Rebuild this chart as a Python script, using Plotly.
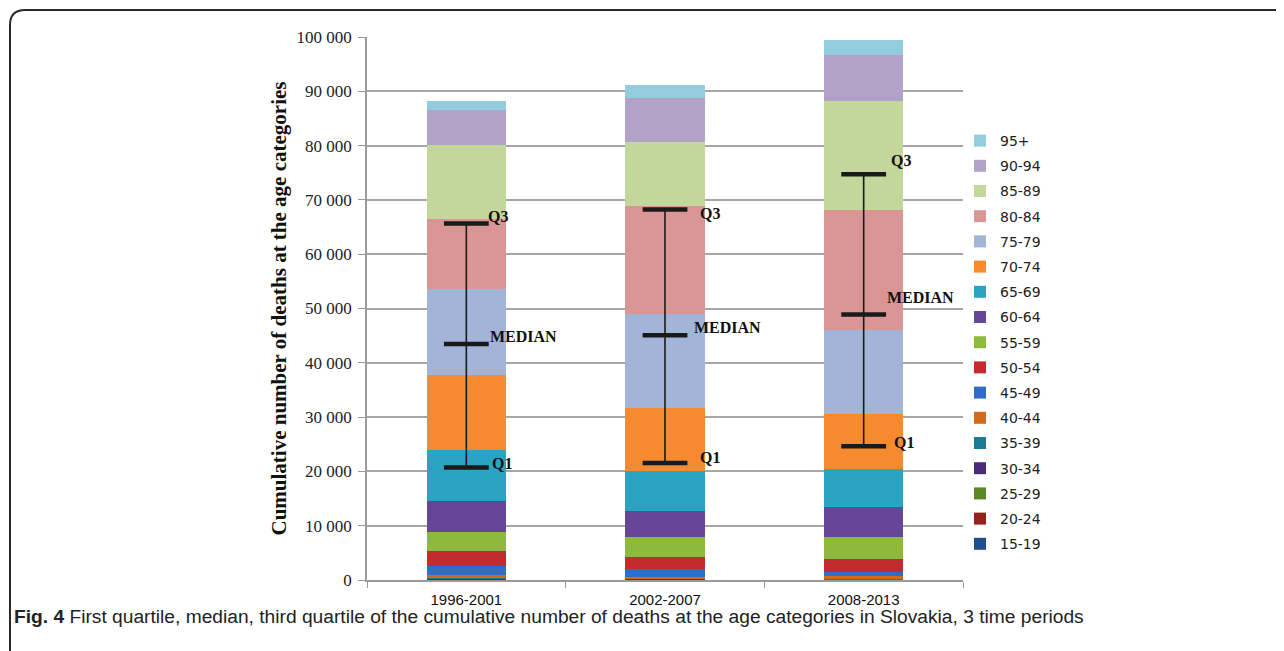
import plotly.graph_objects as go

periods = ["1996-2001", "2002-2007", "2008-2013"]
age_groups = ["15-19", "20-24", "25-29", "30-34", "35-39", "40-44", "45-49", "50-54",
              "55-59", "60-64", "65-69", "70-74", "75-79", "80-84", "85-89", "90-94", "95+"]

# deaths per age group (15-19 ... 95+) in each period
deaths_1996_2001 = [40, 50, 50, 60, 90, 700, 1590, 2710, 3550, 5710, 9340, 13810, 15960, 12890, 13630, 6450, 1570]
deaths_2002_2007 = [40, 40, 50, 60, 80, 360, 1340, 2270, 3680, 4790, 7310, 11730, 17180, 19890, 11840, 8180, 2320]
deaths_2008_2013 = [30, 40, 50, 60, 70, 430, 790, 2340, 4110, 5520, 7010, 10190, 15470, 21980, 20120, 8420, 2760]

q1 = [20700, 21550, 24620]
median = [43460, 45070, 48880]
q3 = [65640, 68210, 74720]

colors = ["#1F4E8F", "#95211F", "#5B8A24", "#4A2C79", "#1F7B95", "#D2691D", "#2F6DC6", "#C52A2F",
          "#8DBA3D", "#654697", "#2BA3C3", "#F58A2E", "#A2B4D8", "#D99695", "#C3D69B", "#B3A2C7", "#93CDDD"]

fig = go.Figure()
series = [deaths_1996_2001, deaths_2002_2007, deaths_2008_2013]
for i, ag in enumerate(age_groups):
    fig.add_trace(go.Bar(
        x=periods, y=[s[i] for s in series], name=ag, legendgroup=ag,
        legendrank=1000 - i,
        marker=dict(color=colors[i], line=dict(width=0)),
        hoverinfo="name+y",
    ))

# vertical Q1-Q3 line
lx, ly = [], []
for p, a, b in zip(periods, q1, q3):
    lx += [p, p, None]
    ly += [a, b, None]
fig.add_trace(go.Scatter(x=lx, y=ly, mode="lines", line=dict(color="#1a1a1a", width=1.6),
                         showlegend=False, hoverinfo="skip"))
# caps
fig.add_trace(go.Scatter(x=periods * 3, y=q1 + median + q3, mode="markers",
                         marker=dict(symbol="line-ew", size=32, color="#1a1a1a",
                                     line=dict(width=4.5, color="#1a1a1a")),
                         showlegend=False, hoverinfo="skip"))

# labels
label_dx = [[24, 22, 20], [33, 27, 33], [28, 21, 25]]  # Q1, MEDIAN, Q3 pixel offsets per period
label_dy = [[4, 8, 7], [5, 8, -4], [4, 17, 14]]
for j, p in enumerate(periods):
    for k, (name, vals) in enumerate([("Q1", q1), ("MEDIAN", median), ("Q3", q3)]):
        fig.add_annotation(x=p, y=vals[j], text=f"<b>{name}</b>", showarrow=False, xanchor="left",
                           yanchor="middle", xshift=label_dx[j][k], yshift=label_dy[j][k],
                           font=dict(family="Liberation Serif", size=16, color="#111111"))

OFF = 8  # page body margin
W, H = 1284 - OFF, 651 - OFF
L, T = 367 - OFF, 37 - OFF
R, B = W - (963 - OFF), H - (580 - OFF)
pw, ph = W - L - R, H - T - B


def px(xv):  # viewport pixel -> paper
    return (xv - OFF - L) / pw


def py(yv):
    return (H - B - (yv - OFF)) / ph


# rounded frame
fig.add_shape(type="path", xref="paper", yref="paper",
              path=f"M {px(10)},{py(660)} L {px(10)},{py(25)} Q {px(10)},{py(10)} {px(25)},{py(10)} L {px(1300)},{py(10)}",
              line=dict(color="#2a2a2a", width=2))

fig.add_annotation(xref="paper", yref="paper", x=px(12), y=py(616), xanchor="left", yanchor="middle",
                   showarrow=False,
                   text="<b>Fig. 4</b> First quartile, median, third quartile of the cumulative number of deaths at the age categories in Slovakia, 3 time periods",
                   font=dict(family="Liberation Sans", size=19.2, color="#222222"))

fig.update_layout(
    width=W, height=H,
    barmode="stack", bargap=0.6,
    separators=". ",
    plot_bgcolor="white", paper_bgcolor="white",
    margin=dict(l=L, r=R, t=T, b=B),
    legend=dict(traceorder="grouped", x=px(960), xanchor="left", y=py(125), yanchor="top",
                font=dict(family="DejaVu Sans", size=14, color="#222222"),
                tracegroupgap=4, itemwidth=30, bgcolor="rgba(0,0,0,0)"),
    showlegend=True,
)
fig.update_xaxes(showgrid=False, showline=True, linecolor="#9a9a9a", linewidth=1.5,
                 ticks="outside", tickson="boundaries", ticklen=6, tickcolor="#9a9a9a",
                 ticklabelstandoff=5,
                 tickfont=dict(family="Liberation Sans", size=15, color="#111111"))
fig.update_yaxes(range=[0, 100000], dtick=10000, tickformat=",d",
                 showgrid=True, gridcolor="#a6a6a6", gridwidth=1.5,
                 showline=True, linecolor="#9a9a9a", linewidth=1.5,
                 ticks="outside", ticklen=7, tickcolor="#9a9a9a",
                 ticklabelstandoff=3,
                 tickfont=dict(family="Liberation Serif", size=17, color="#222222"),
                 title=dict(text="<b>Cumulative number of deaths at the age categories</b>", standoff=4,
                            font=dict(family="Liberation Serif", size=21, color="#111111")),
                 zeroline=False)

fig.write_html("out.html")
